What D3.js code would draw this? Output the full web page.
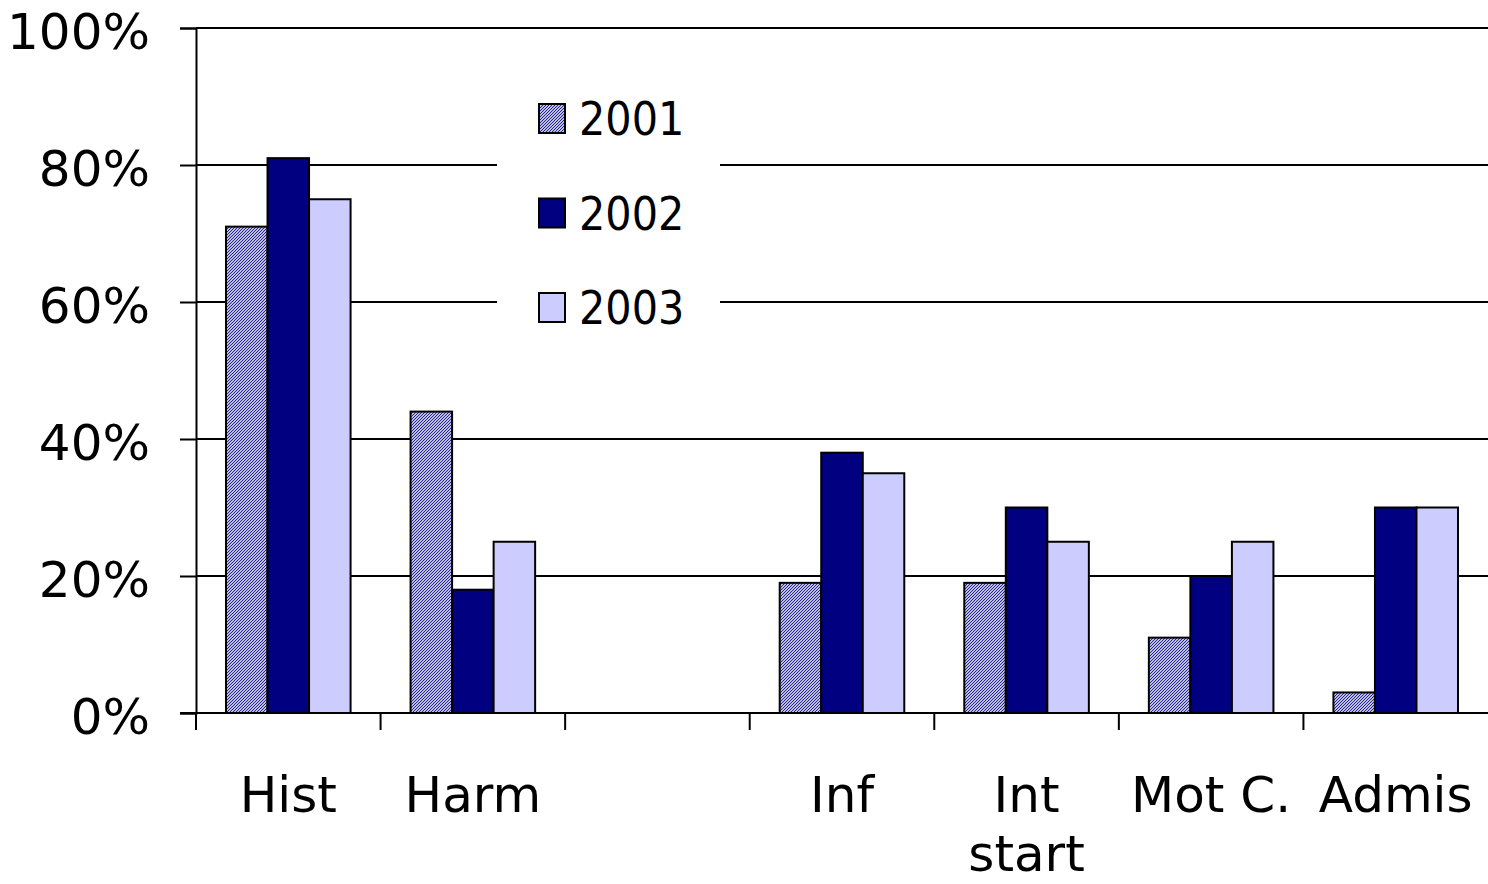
<!DOCTYPE html>
<html lang="en">
	<head>
		<meta charset="utf-8">
		<title>D3: Survey results 2001-2003</title>
		<script type="text/javascript" src="https://cdn.jsdelivr.net/npm/d3@7"></script>
		<style>
			body { margin: 0; background: #fff; }
			text { font-family: "DejaVu Sans", Verdana, sans-serif; }
		</style>
	</head>
	<body>
		<script type="text/javascript">
			// data
			var categories = ["Hist", "Harm", "", "Inf", "Int start", "Mot C.", "Admis"];
			var categoryLines = [["Hist"], ["Harm"], [""], ["Inf"], ["Int", "start"], ["Mot C."], ["Admis"]];
			var years = ["2001", "2002", "2003"];
			var values2001 = [0.71, 0.44, null, 0.19, 0.19, 0.11, 0.03];
			var values2002 = [0.81, 0.18, null, 0.38, 0.30, 0.20, 0.30];
			var values2003 = [0.75, 0.25, null, 0.35, 0.25, 0.25, 0.30];
			var yTicks = [0, 0.2, 0.4, 0.6, 0.8, 1.0];

			var w = 1488;
			var h = 884;
			var plotLeft = 196, plotRight = 1488, plotTop = 28, plotBottom = 713;

			var svg = d3.select("body")
						.append("svg")
						.attr("width", w)
						.attr("height", h);

			// hatch for 2001
			var pat = svg.append("defs")
						.append("pattern")
						.attr("id", "hatch")
						.attr("patternUnits", "userSpaceOnUse")
						.attr("width", 3)
						.attr("height", 3);
			pat.append("rect")
				.attr("width", 3)
				.attr("height", 3)
				.attr("fill", "#ffffff");
			pat.append("path")
				.attr("d", "M-1,1 L1,-1 M0,3 L3,0 M2,4 L4,2")
				.attr("stroke", "#1a1a90")
				.attr("stroke-width", 1.1);

			var fills = ["url(#hatch)", "#000080", "#ccccff"];

			var y = d3.scaleLinear()
						.domain([0, 1])
						.range([plotBottom, plotTop]);

			var x0 = d3.scaleBand()
						.domain(categories)
						.range([plotLeft, plotRight])
						.padding(0);

			var groupPad = 30;
			var x1 = d3.scaleBand()
						.domain(years)
						.range([groupPad, x0.bandwidth() - groupPad]);

			// gridlines
			svg.append("g")
				.selectAll("line")
				.data(yTicks.slice(1))
				.enter()
				.append("line")
				.attr("x1", plotLeft)
				.attr("x2", plotRight)
				.attr("y1", function(d) { return y(d); })
				.attr("y2", function(d) { return y(d); })
				.attr("stroke", "#000")
				.attr("stroke-width", 2);

			// legend background breaks the gridlines
			svg.append("rect")
				.attr("x", 497)
				.attr("y", 90)
				.attr("width", 223)
				.attr("height", 245)
				.attr("fill", "#fff");

			// bars
			var series = [values2001, values2002, values2003];
			var barData = [];
			categories.forEach(function(c, i) {
				years.forEach(function(yr, j) {
					if (series[j][i] != null) {
						barData.push({cat: c, year: yr, value: series[j][i], fill: fills[j]});
					}
				});
			});

			svg.append("g")
				.selectAll("rect")
				.data(barData)
				.enter()
				.append("rect")
				.attr("x", function(d) { return x0(d.cat) + x1(d.year); })
				.attr("y", function(d) { return y(d.value); })
				.attr("width", x1.bandwidth())
				.attr("height", function(d) { return plotBottom - y(d.value); })
				.attr("fill", function(d) { return d.fill; })
				.attr("stroke", "#000")
				.attr("stroke-width", 2);

			// y axis
			var yAxis = d3.axisLeft(y)
						.tickValues(yTicks)
						.tickFormat(d3.format(".0%"))
						.tickSize(16)
						.tickPadding(30);

			var gy = svg.append("g")
						.attr("transform", "translate(" + plotLeft + ",0)")
						.call(yAxis);
			gy.select(".domain").attr("stroke-width", 2);
			gy.selectAll(".tick line").attr("stroke-width", 2);
			gy.selectAll(".tick text")
				.attr("font-family", "DejaVu Sans")
				.attr("font-size", 50)
				.attr("y", 4)
				.attr("fill", "#000");

			// x axis: ticks at band edges
			var edges = categories.map(function(c) { return x0(c); });
			var gx = svg.append("g");
			gx.append("line")
				.attr("x1", plotLeft - 16)
				.attr("x2", plotRight)
				.attr("y1", plotBottom)
				.attr("y2", plotBottom)
				.attr("stroke", "#000")
				.attr("stroke-width", 2);
			gx.selectAll("line.tk")
				.data(edges)
				.enter()
				.append("line")
				.attr("class", "tk")
				.attr("x1", function(d) { return d; })
				.attr("x2", function(d) { return d; })
				.attr("y1", plotBottom)
				.attr("y2", plotBottom + 17)
				.attr("stroke", "#000")
				.attr("stroke-width", 2);

			var labels = gx.selectAll("text")
						.data(categories)
						.enter()
						.append("text")
						.attr("text-anchor", "middle")
						.attr("font-size", 50)
						.attr("fill", "#000");
			labels.each(function(c, i) {
				var t = d3.select(this);
				categoryLines[i].forEach(function(line, k) {
					t.append("tspan")
						.attr("x", x0(c) + x0.bandwidth() / 2)
						.attr("y", 812 + k * 59)
						.text(line);
				});
			});

			// legend
			var item = svg.append("g")
						.selectAll("g")
						.data(years)
						.enter()
						.append("g")
						.attr("transform", function(d, i) { return "translate(539," + (118 + i * 94.5) + ")"; });
			item.append("rect")
				.attr("x", 0)
				.attr("y", -14)
				.attr("width", 26)
				.attr("height", 29)
				.attr("fill", function(d, i) { return fills[i]; })
				.attr("stroke", "#000")
				.attr("stroke-width", 2);
			item.append("text")
				.attr("x", 40)
				.attr("y", 17)
				.attr("font-size", 46)
				.attr("font-stretch", "condensed")
				.text(function(d) { return d; });
		</script>
	</body>
</html>
